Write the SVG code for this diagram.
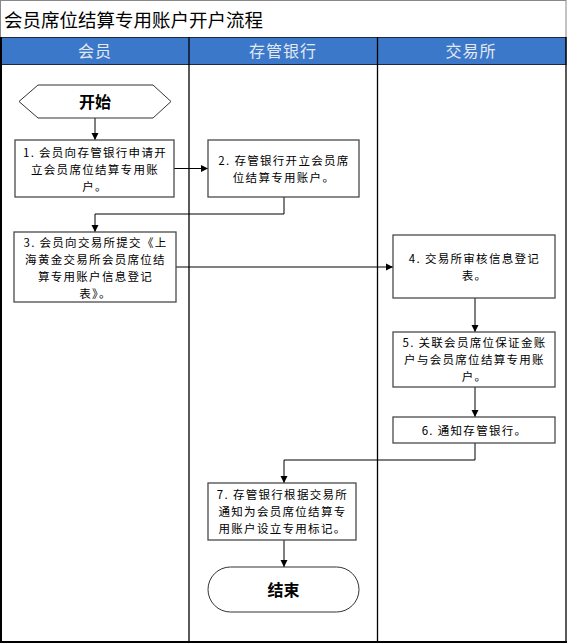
<svg xmlns="http://www.w3.org/2000/svg" width="567" height="643" viewBox="0 0 567 643">
<style>
.box{fill:#fff;stroke:#4a4a4a;stroke-width:1.3}
.t{font-family:"Noto Sans CJK SC","Liberation Serif",serif;font-size:11.5px;letter-spacing:1.3px;fill:#000;text-anchor:middle;dominant-baseline:central}
.b{font-family:"Noto Sans CJK SC",sans-serif;font-size:16px;font-weight:bold;fill:#000;text-anchor:middle;dominant-baseline:central}
.h{font-family:"Noto Sans CJK SC",sans-serif;font-size:16px;letter-spacing:1px;fill:#e4e8f0;text-anchor:middle;dominant-baseline:central}
.c{fill:none;stroke:#000;stroke-width:1}
</style>
<defs>
<marker id="a" markerWidth="8" markerHeight="8" refX="7" refY="4" orient="auto" markerUnits="userSpaceOnUse">
<path d="M0,0.5 L7,4 L0,7.5 Z" fill="#000"/>
</marker>
</defs>
<rect x="0" y="0" width="567" height="643" fill="#fff"/>
<g id="frame">
<rect x="0.5" y="0.5" width="565.5" height="37" fill="#fff" stroke="#888" stroke-width="1"/>
<text x="4" y="19" style="font-family:'Noto Sans CJK SC',sans-serif;font-size:18.5px;dominant-baseline:central">会员席位结算专用账户开户流程</text>
<rect x="0.5" y="37.5" width="565.5" height="27" fill="#3b78c9" stroke="#1a2a40" stroke-width="1"/>
<text class="h" x="95" y="50">会员</text>
<text class="h" x="283" y="50">存管银行</text>
<text class="h" x="471" y="50">交易所</text>
<line x1="189" y1="37" x2="189" y2="642" stroke="#000" stroke-width="1.3"/>
<line x1="377.5" y1="37" x2="377.5" y2="642" stroke="#000" stroke-width="1.3"/>
<line x1="1" y1="37" x2="1" y2="642" stroke="#000" stroke-width="2"/>
<line x1="0" y1="642" x2="567" y2="642" stroke="#000" stroke-width="2"/>
<line x1="566" y1="37" x2="566" y2="642" stroke="#000" stroke-width="1.3"/>
</g>
<g id="connectors">
<path class="c" d="M95,118 V140" marker-end="url(#a)"/>
<path class="c" d="M174,168.5 H208" marker-end="url(#a)"/>
<path class="c" d="M284,197 V214 H95 V232" marker-end="url(#a)"/>
<path class="c" d="M176,267 H393" marker-end="url(#a)"/>
<path class="c" d="M475,298 V332" marker-end="url(#a)"/>
<path class="c" d="M475,387 V417" marker-end="url(#a)"/>
<path class="c" d="M475,443 V460 H284 V483" marker-end="url(#a)"/>
<path class="c" d="M284,540 V567" marker-end="url(#a)"/>
</g>
<g id="start">
<polygon points="19,101.5 38,85 153,85 171,101.5 153,118 38,118" fill="#fff" stroke="#333" stroke-width="1"/>
<text class="b" x="95" y="101">开始</text>
</g>
<g id="step1">
<rect class="box" x="15" y="140" width="159" height="57"/>
<text class="t" x="95" y="151.5">1. 会员向存管银行申请开</text>
<text class="t" x="95" y="168.5">立会员席位结算专用账</text>
<text class="t" x="95" y="185.5">户。</text>
</g>
<g id="step2">
<rect class="box" x="208" y="140" width="151" height="57"/>
<text class="t" x="284" y="160">2. 存管银行开立会员席</text>
<text class="t" x="284" y="177">位结算专用账户。</text>
</g>
<g id="step3">
<rect class="box" x="14" y="232" width="162" height="70"/>
<text class="t" x="95.5" y="241.5">3. 会员向交易所提交《上</text>
<text class="t" x="95.5" y="258.5">海黄金交易所会员席位结</text>
<text class="t" x="95.5" y="275.5">算专用账户信息登记</text>
<text class="t" x="95.5" y="292.5">表》。</text>
</g>
<g id="step4">
<rect class="box" x="393" y="235" width="162" height="63"/>
<text class="t" x="474.5" y="258">4. 交易所审核信息登记</text>
<text class="t" x="474.5" y="275">表。</text>
</g>
<g id="step5">
<rect class="box" x="393" y="332" width="162" height="55"/>
<text class="t" x="474.5" y="342">5. 关联会员席位保证金账</text>
<text class="t" x="474.5" y="359">户与会员席位结算专用账</text>
<text class="t" x="474.5" y="376">户。</text>
</g>
<g id="step6">
<rect class="box" x="393" y="417" width="162" height="26"/>
<text class="t" x="474.5" y="430">6. 通知存管银行。</text>
</g>
<g id="step7">
<rect class="box" x="208" y="483" width="148" height="57"/>
<text class="t" x="282.5" y="494">7. 存管银行根据交易所</text>
<text class="t" x="282.5" y="511">通知为会员席位结算专</text>
<text class="t" x="282.5" y="528">用账户设立专用标记。</text>
</g>
<g id="end">
<rect x="208" y="567" width="151" height="45" rx="22.5" ry="22.5" fill="#fff" stroke="#333" stroke-width="1"/>
<text class="b" x="283.5" y="589">结束</text>
</g>
</svg>
